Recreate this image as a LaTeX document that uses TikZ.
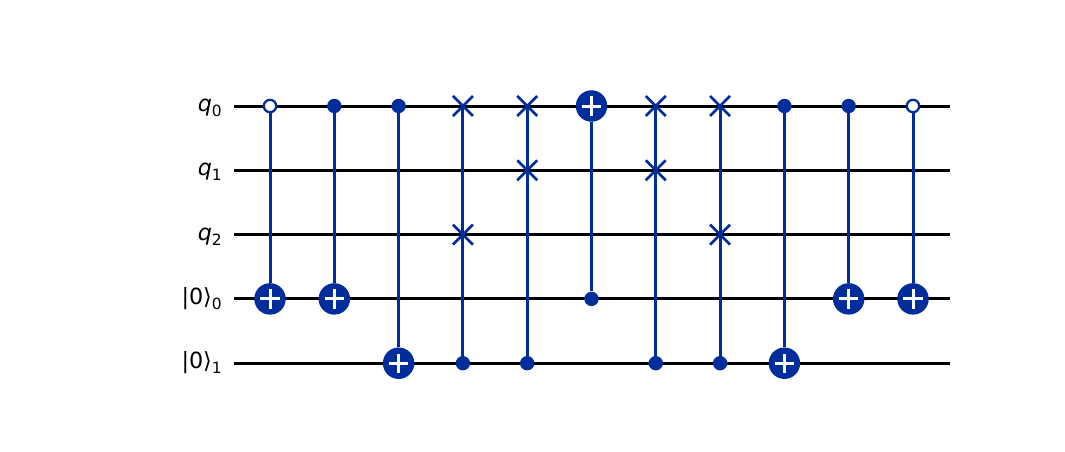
\documentclass[tikz,border=0pt]{standalone}
\usepackage{fontspec}
\setmainfont{DejaVu Sans}
\usetikzlibrary{shapes.misc}
\definecolor{gateblue}{HTML}{002D9C}
\newcommand{\wirelabel}[2]{#1\raisebox{-0.22em}{\fontsize{11.6}{12}\selectfont #2}}
\tikzset{
  wire/.style={line width=2.25pt,black},
  link/.style={line width=2.25pt,gateblue},
  lab/.style={anchor=base east,inner sep=0pt,font=\fontsize{16.7}{18}\selectfont},
  ctrl/.style={circle,fill=gateblue,inner sep=0pt,minimum size=10.8pt},
  octrl/.style={circle,draw=gateblue,line width=1.7pt,fill=white,inner sep=0pt,minimum size=9.3pt},
  targ/.style={circle,fill=gateblue,inner sep=0pt,minimum size=23.6pt,
    path picture={
      \draw[white,line width=2.25pt]
        (path picture bounding box.center) ++(-7.2pt,0) -- ++(14.4pt,0)
        (path picture bounding box.center) ++(0,-7.2pt) -- ++(0,14.4pt);
    }},
  swp/.style={cross out,draw=gateblue,line width=2pt,inner sep=0pt,minimum size=13pt},
}
\begin{document}
\begin{tikzpicture}[x=0.75pt,y=-0.75pt]
    \useasboundingbox (0,0) rectangle (1065,451);

    % wires and their labels
    \foreach \i/\y/\txt in {0/106/{\wirelabel{\textit{q}}{0}},1/170.3/{\wirelabel{\textit{q}}{1}},
        2/234.6/{\wirelabel{\textit{q}}{2}},3/298.9/{\wirelabel{|0⟩}{0}},4/363.2/{\wirelabel{|0⟩}{1}}}{
      \coordinate (w\i) at (234,\y);
      \coordinate (e\i) at (950,\y);
      \draw[wire] (w\i) -- (e\i);
      \node[lab] (lab\i) at (222,\y+5.5) {\txt};
    }

    % controlled not gates
    \foreach \n/\x/\cy/\ty/\kind in {a/270/106/298.9/octrl,b/334.3/106/298.9/ctrl,
        c/398.6/106/363.2/ctrl,f/591.5/298.9/106/ctrl,i/784.4/106/363.2/ctrl,
        j/848.7/106/298.9/ctrl,k/913/106/298.9/octrl}{
      \node[\kind] (\n c) at (\x,\cy) {};
      \node[targ] (\n t) at (\x,\ty) {};
      \draw[link] (\n c) -- (\n t);
    }

    % controlled swap gates
    \foreach \n/\x/\sy in {d/462.9/234.6,e/527.2/170.3,g/655.8/170.3,h/720.1/234.6}{
      \node[swp] (\n a) at (\x,106) {};
      \node[swp] (\n b) at (\x,\sy) {};
      \node[ctrl] (\n c) at (\x,363.2) {};
      \draw[link] (\n a.center) -- (\n b.center) -- (\n c.center);
    }
\end{tikzpicture}
\end{document}
